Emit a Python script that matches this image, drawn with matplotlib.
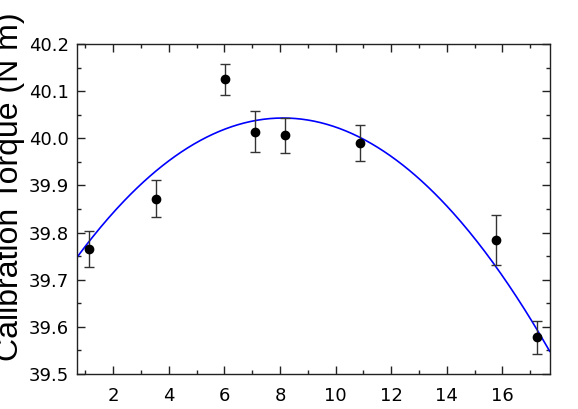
import numpy as np
import matplotlib.pyplot as plt
from matplotlib.ticker import MultipleLocator

# measured points with error bars
x_data = [1.13, 3.54, 6.02, 7.10, 8.19, 10.88, 15.77, 17.25]
y_data = [39.766, 39.872, 40.125, 40.014, 40.006, 39.990, 39.784, 39.578]
y_err = [0.038, 0.040, 0.033, 0.044, 0.037, 0.039, 0.053, 0.035]

# quadratic fit coefficients (c0 + c1*x + c2*x^2)
fit_coef = [39.6890, 0.08729, -0.005381]

x_lim = (0.7, 17.7)
y_lim = (39.5, 40.2)

fig = plt.figure(figsize=(5.78, 4.09), dpi=100)
ax = fig.add_axes([0.1332, 0.0856, 0.8178, 0.8068])

xs = np.linspace(x_lim[0], x_lim[1], 300)
ys = np.polyval(fit_coef[::-1], xs)
ax.plot(xs, ys, color='#0000ff', lw=1.2, zorder=2)

ax.errorbar(x_data, y_data, yerr=y_err, fmt='o', color='black', ms=6,
            ecolor='#333333', elinewidth=1.0, capsize=3.5, capthick=1.0, zorder=3)

ax.set_xlim(*x_lim)
ax.set_ylim(*y_lim)
ax.xaxis.set_major_locator(MultipleLocator(2))
ax.xaxis.set_minor_locator(MultipleLocator(1))
ax.yaxis.set_major_locator(MultipleLocator(0.1))
ax.yaxis.set_minor_locator(MultipleLocator(0.05))
ax.yaxis.set_major_formatter(plt.FormatStrFormatter('%.1f'))

ax.tick_params(which='both', direction='in', top=True, right=True, width=1.0,
               color='#222222', labelsize=13)
ax.tick_params(which='major', length=6)
ax.tick_params(which='minor', length=3)
ax.tick_params(axis='x', pad=9.5)
ax.tick_params(axis='y', pad=6)

for sp in ax.spines.values():
    sp.set_linewidth(1.0)
    sp.set_color('#222222')

# label is partly cut off at the left edge, as in the original
ax.set_ylabel('Calibration Torque (N m)', fontsize=23, family='Liberation Sans')
ax.yaxis.set_label_coords(-0.111, 0.568)

fig.savefig('out.png', dpi=100)
